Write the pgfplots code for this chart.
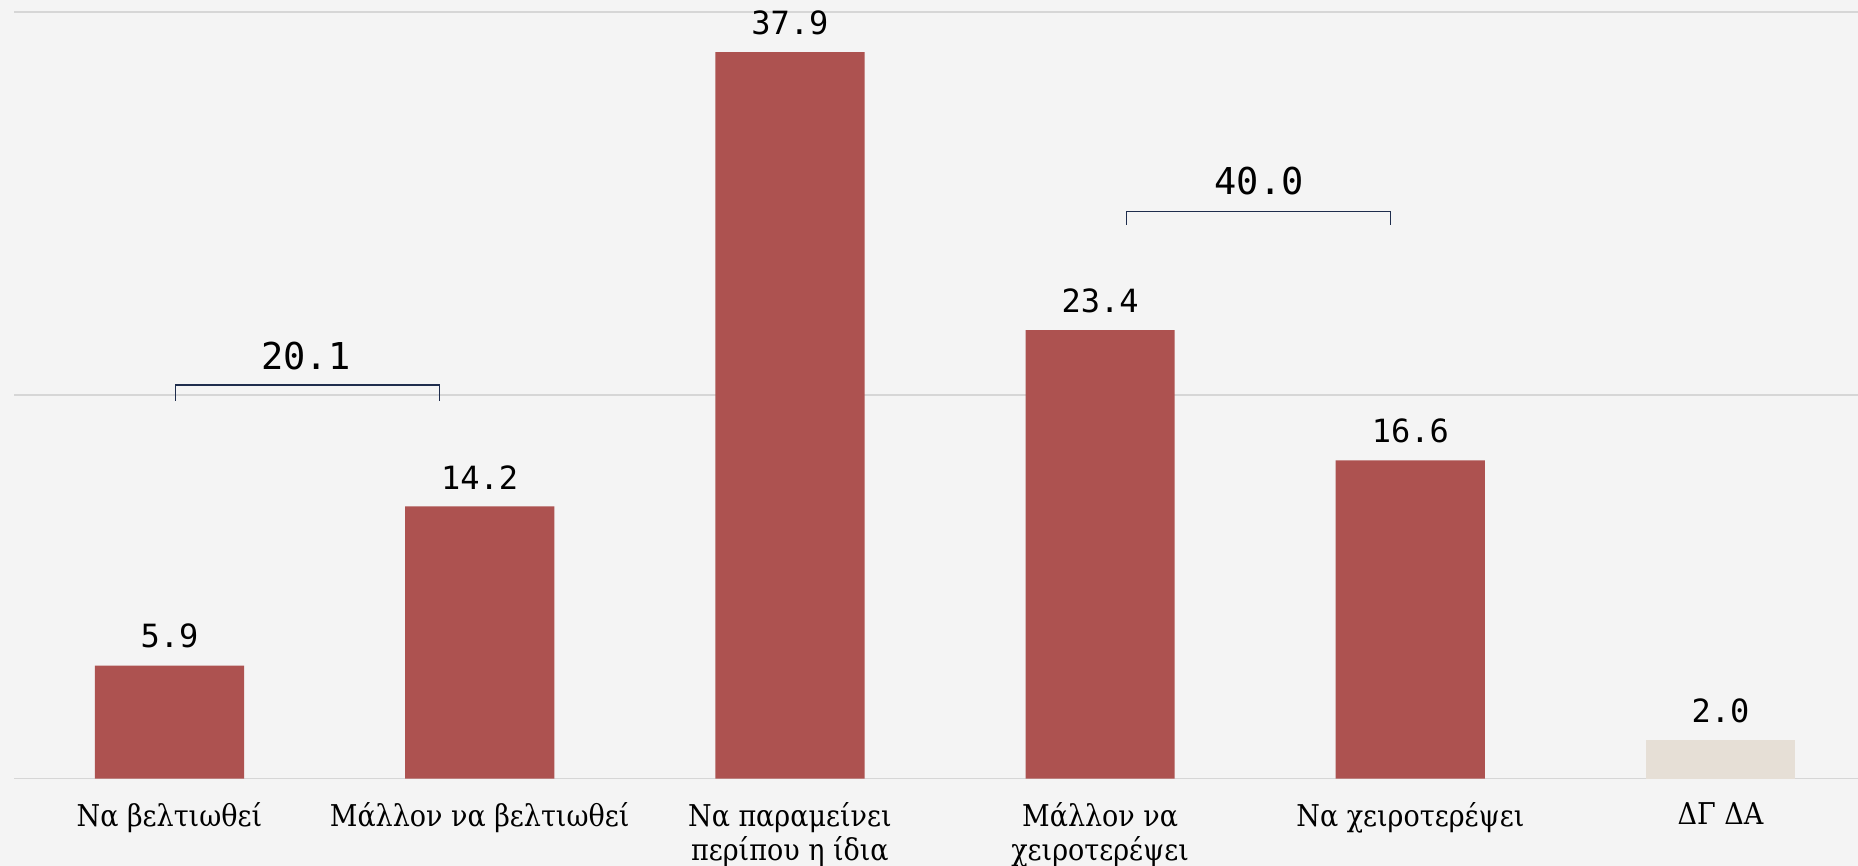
\documentclass[border=0pt]{standalone}
\usepackage{pgfplots}
\pgfplotsset{compat=1.18}
\usepackage{fontspec}
\setmainfont{DejaVu Serif Condensed}
\newfontfamily\monofont{DejaVu Sans Mono}
\definecolor{bgcol}{HTML}{F4F4F4}
\definecolor{gridcol}{HTML}{D6D6D6}
\definecolor{barred}{HTML}{AD5250}
\definecolor{barlight}{HTML}{E6DFD6}
\definecolor{brack}{HTML}{1F2D4D}
\begin{document}
\begin{tikzpicture}[x=1pt,y=1pt]
\fill[bgcol] (0,0) rectangle (929,433);
\useasboundingbox (0,0) rectangle (929,433);
\begin{axis}[
  at={(7pt,43.7pt)}, anchor=south west,
  scale only axis, width=922pt, height=389.3pt,
  xmin=-0.501, xmax=5.443, ymin=0, ymax=40.62,
  clip=false,
  axis line style={draw=none},
  major tick length=0pt,
  ymajorgrids, grid style={gridcol, line width=0.8pt},
  ytick={0,20,40}, yticklabels={},
  xtick={0,1,2,3,4,5},
  xticklabels={Να βελτιωθεί, Μάλλον να βελτιωθεί, {Να παραμείνει\\περίπου η ίδια}, {Μάλλον να\\χειροτερέψει}, Να χειροτερέψει, ΔΓ ΔΑ},
  xticklabel style={font=\fontsize{15}{16.6}\selectfont, align=center, anchor=north, inner sep=0pt, yshift=-12pt},
  nodes near coords,
  point meta=y,
  nodes near coords style={font=\monofont\fontsize{16}{19}\selectfont, anchor=south, inner sep=0pt, yshift=8.5pt,
    /pgf/number format/.cd, fixed, fixed zerofill, precision=1, assume math mode=true},
]
\addplot[ybar, bar width=0.481, fill=barred, draw=none] coordinates {(0,5.9) (1,14.2) (2,37.9) (3,23.4) (4,16.6)};
\addplot[ybar, bar width=0.481, fill=barlight, draw=none] coordinates {(5,2.0)};
\draw[brack, line width=0.6pt] (axis cs:0.019,19.72) |- (axis cs:0.87,20.53) -- (axis cs:0.87,19.72);
\draw[brack, line width=0.6pt] (axis cs:3.086,28.9) |- (axis cs:3.937,29.6) -- (axis cs:3.937,28.9);
\node[font=\monofont\fontsize{18.5}{22}\selectfont, inner sep=0pt] at (axis cs:0.44,22.07) {20.1};
\node[font=\monofont\fontsize{18.5}{22}\selectfont, inner sep=0pt] at (axis cs:3.513,31.17) {40.0};
\end{axis}
\end{tikzpicture}
\end{document}
